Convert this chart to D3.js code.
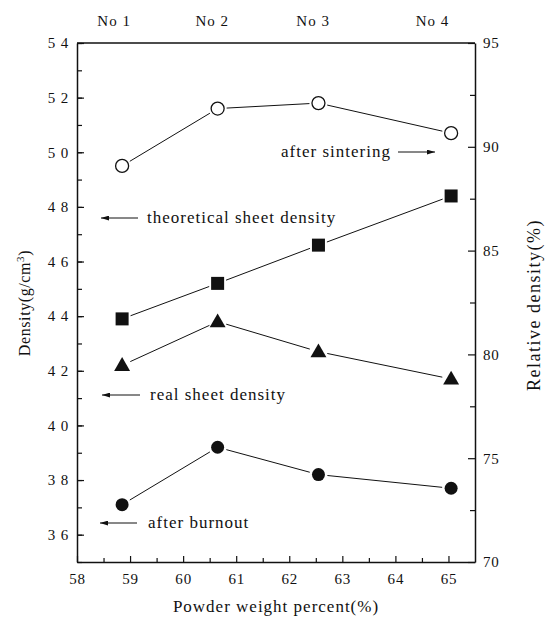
<!DOCTYPE html>
<html>
<head>
<meta charset="utf-8">
<script src="https://cdn.jsdelivr.net/npm/d3@7"></script>
<style>
  body { margin: 0; background: #fff; }
  text { font-family: "Liberation Serif", "DejaVu Serif", serif; fill: #111; }
  .axis path { stroke: #111; stroke-width: 1.5; }
  .axis line { stroke: #111; stroke-width: 1.2; }
  .series { stroke: #111; stroke-width: 1; fill: none; }
  .note { font-size: 17px; letter-spacing: 1px; }
</style>
</head>
<body>
<div id="chart"></div>
<script>
const powder = [58.85, 60.65, 62.55, 65.05]
const sampleNames = ['No 1', 'No 2', 'No 3', 'No 4']
const nameX = [58.7, 60.55, 62.45, 64.7]
const afterSintering = [4.95, 5.16, 5.18, 5.07]
const theoretical = [4.39, 4.52, 4.66, 4.84]
const realSheet = [4.22, 4.38, 4.27, 4.17]
const afterBurnout = [3.71, 3.92, 3.82, 3.77]
const xTicks = [58, 59, 60, 61, 62, 63, 64, 65]
const yTicks = [3.6, 3.8, 4.0, 4.2, 4.4, 4.6, 4.8, 5.0, 5.2, 5.4]
const y2Ticks = [70, 75, 80, 85, 90, 95]

const width = 549
const height = 623
const margin = {top: 43, right: 74, bottom: 61, left: 77}

const svg = d3.select('#chart').append('svg')
  .attr('width', width)
  .attr('height', height)

const x = d3.scaleLinear().domain([58, 65.5]).range([margin.left, width - margin.right])
const y = d3.scaleLinear().domain([3.5, 5.4]).range([height - margin.bottom, margin.top])
const y2 = d3.scaleLinear().domain([70, 95]).range([height - margin.bottom, margin.top])

const fmt = d => d3.format('.1f')(d).replace('.', ' ')

// frame top
svg.append('line')
  .attr('x1', x(58)).attr('x2', x(65.5))
  .attr('y1', margin.top).attr('y2', margin.top)
  .attr('stroke', '#111').attr('stroke-width', 1.5)

// minor ticks
svg.append('g').attr('class', 'axis')
  .attr('transform', `translate(${margin.left},0)`)
  .call(d3.axisLeft(y).tickValues(d3.range(3.5, 5.41, 0.1)).tickSize(-5).tickFormat(''))
  .call(g => g.select('.domain').remove())
svg.append('g').attr('class', 'axis')
  .attr('transform', `translate(${width - margin.right},0)`)
  .call(d3.axisRight(y2).tickValues(d3.range(72.5, 95, 5)).tickSize(-5).tickFormat(''))
  .call(g => g.select('.domain').remove())
svg.append('g').attr('class', 'axis')
  .attr('transform', `translate(0,${height - margin.bottom})`)
  .call(d3.axisBottom(x).tickValues(d3.range(58.5, 65.5, 1)).tickSize(-4).tickFormat(''))
  .call(g => g.select('.domain').remove())

// main axes
svg.append('g').attr('class', 'axis')
  .attr('transform', `translate(${margin.left},0)`)
  .call(d3.axisLeft(y).tickValues(yTicks).tickSize(-7).tickPadding(8).tickFormat(fmt).tickSizeOuter(0))
svg.append('g').attr('class', 'axis')
  .attr('transform', `translate(${width - margin.right},0)`)
  .call(d3.axisRight(y2).tickValues(y2Ticks).tickSize(-7).tickPadding(8).tickSizeOuter(0))
svg.append('g').attr('class', 'axis')
  .attr('transform', `translate(0,${height - margin.bottom})`)
  .call(d3.axisBottom(x).tickValues(xTicks).tickSize(-6).tickPadding(11).tickSizeOuter(0))

svg.selectAll('.axis text')
  .style('font-family', '"Liberation Serif", serif')
  .style('font-size', '15px')
  .style('letter-spacing', '0.8px')

// sample names on top
svg.selectAll('.name').data(sampleNames).enter().append('text')
  .attr('x', (d, i) => x(nameX[i]))
  .attr('y', 26)
  .attr('text-anchor', 'middle')
  .style('font-size', '15px')
  .style('letter-spacing', '1px')
  .text(d => d)

// axis titles
svg.append('text')
  .attr('transform', `translate(30,303) rotate(-90)`)
  .attr('text-anchor', 'middle')
  .style('font-size', '16px')
  .style('letter-spacing', '0.6px')
  .html('Density(g/cm<tspan dy="-6" font-size="11">3</tspan><tspan dy="6">)</tspan>')
svg.append('text')
  .attr('transform', `translate(540,305) rotate(-90)`)
  .attr('text-anchor', 'middle')
  .style('font-size', '18px')
  .style('letter-spacing', '1.5px')
  .text('Relative density(%)')
svg.append('text')
  .attr('x', x(61.75)).attr('y', 612)
  .attr('text-anchor', 'middle')
  .style('font-size', '17px')
  .style('letter-spacing', '1px')
  .text('Powder weight percent(%)')

// series
const series = [
  {vals: afterSintering, shape: 'open'},
  {vals: theoretical, shape: 'square'},
  {vals: realSheet, shape: 'triangle'},
  {vals: afterBurnout, shape: 'dot'}
]
const gap = 9
series.forEach(s => {
  const pts = s.vals.map((v, i) => [x(powder[i]), y(v)])
  for (let i = 0; i < pts.length - 1; i++) {
    const [x1, y1] = pts[i], [x2, y2p] = pts[i + 1]
    const len = Math.hypot(x2 - x1, y2p - y1)
    const ux = (x2 - x1) / len, uy = (y2p - y1) / len
    svg.append('line').attr('class', 'series')
      .attr('x1', x1 + ux * gap).attr('y1', y1 + uy * gap)
      .attr('x2', x2 - ux * gap).attr('y2', y2p - uy * gap)
  }
  const g = svg.append('g')
  pts.forEach(p => {
    if (s.shape === 'open') {
      g.append('circle').attr('cx', p[0]).attr('cy', p[1]).attr('r', 6.5)
        .attr('fill', '#fff').attr('stroke', '#111').attr('stroke-width', 1.3)
    } else if (s.shape === 'dot') {
      g.append('circle').attr('cx', p[0]).attr('cy', p[1]).attr('r', 6.5).attr('fill', '#111')
    } else if (s.shape === 'square') {
      g.append('rect').attr('x', p[0] - 6.5).attr('y', p[1] - 6.5)
        .attr('width', 13).attr('height', 13).attr('fill', '#111')
    } else {
      g.append('path').attr('d', d3.symbol(d3.symbolTriangle, 110)())
        .attr('transform', `translate(${p[0]},${p[1] + 1})`).attr('fill', '#111')
    }
  })
})

// annotations with arrows
svg.append('defs').append('marker')
  .attr('id', 'arr').attr('viewBox', '0 0 10 6')
  .attr('refX', 10).attr('refY', 3)
  .attr('markerWidth', 8).attr('markerHeight', 5).attr('orient', 'auto')
  .append('path').attr('d', 'M0,0L10,3L0,6Z').attr('fill', '#111')

const notes = [
  {text: 'after sintering', tx: 281, ty: 157, ax1: 398, ax2: 435, ay: 152},
  {text: 'theoretical sheet density', tx: 147, ty: 223, ax1: 138, ax2: 101, ay: 218},
  {text: 'real sheet density', tx: 150, ty: 400, ax1: 140, ax2: 102, ay: 395},
  {text: 'after burnout', tx: 148, ty: 528, ax1: 137, ax2: 100, ay: 523}
]
notes.forEach(n => {
  svg.append('text').attr('class', 'note').attr('x', n.tx).attr('y', n.ty).text(n.text)
  svg.append('line').attr('x1', n.ax1).attr('x2', n.ax2).attr('y1', n.ay).attr('y2', n.ay)
    .attr('stroke', '#111').attr('stroke-width', 1).attr('marker-end', 'url(#arr)')
})
</script>
</body>
</html>
